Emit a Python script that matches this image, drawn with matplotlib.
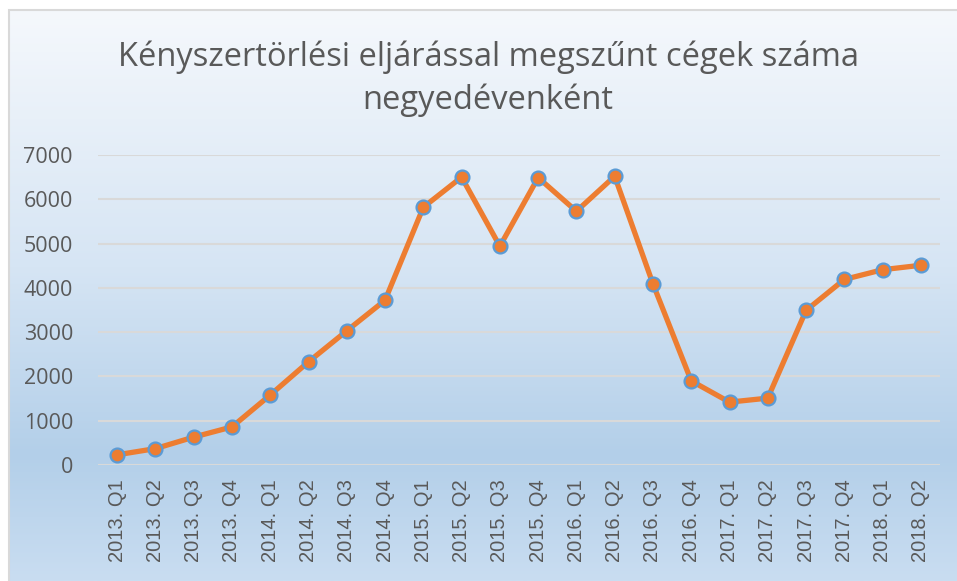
import numpy as np
import matplotlib.pyplot as plt
from matplotlib.colors import LinearSegmentedColormap
from matplotlib.patches import Rectangle

# quarters and values
quarters = ['2013. Q1', '2013. Q2', '2013. Q3', '2013. Q4',
            '2014. Q1', '2014. Q2', '2014. Q3', '2014. Q4',
            '2015. Q1', '2015. Q2', '2015. Q3', '2015. Q4',
            '2016. Q1', '2016. Q2', '2016. Q3', '2016. Q4',
            '2017. Q1', '2017. Q2', '2017. Q3', '2017. Q4',
            '2018. Q1', '2018. Q2']
counts = [230, 370, 630, 860,
          1580, 2330, 3030, 3720,
          5820, 6500, 4940, 6490,
          5730, 6520, 4090, 1900,
          1420, 1510, 3490, 4190,
          4410, 4510]
y_ticks = [0, 1000, 2000, 3000, 4000, 5000, 6000, 7000]

W, H = 957, 581
fig = plt.figure(figsize=(W / 100, H / 100), dpi=100)

# gradient background of the chart area
bg = fig.add_axes([0, 0, 1, 1], zorder=0)
cmap = LinearSegmentedColormap.from_list(
    'bg', [(0.0, '#f5f8fc'), (0.45, '#d6e5f4'), (0.78, '#b3cfe9'), (1.0, '#c9ddf1')])
grad = np.linspace(0, 1, 256).reshape(-1, 1)
bg.imshow(grad, aspect='auto', cmap=cmap, extent=[9 / W, 1, 0, 1 - 10 / H],
          origin='upper')
bg.add_patch(Rectangle((9 / W, -0.01), 1.0, 1 - 10 / H + 0.01, fill=False,
                       edgecolor='#d9d9d9', linewidth=1.5))
bg.set_xlim(0, 1)
bg.set_ylim(0, 1)
bg.axis('off')

ax = fig.add_axes([98 / W, 1 - 465 / H, 842 / W, 310 / H], zorder=1)
ax.patch.set_alpha(0)

x = np.arange(len(quarters))
ax.plot(x, counts, color='#ed7d31', linewidth=3.8, marker='o', markersize=10,
        markerfacecolor='#ed7d31', markeredgecolor='#5b9bd5', markeredgewidth=1.6,
        solid_joinstyle='round', zorder=3)

ax.set_xlim(-0.5, len(quarters) - 0.5)
ax.set_ylim(0, 7000)
ax.set_yticks(y_ticks)
ax.set_yticklabels([str(v) for v in y_ticks], fontsize=15.5, color='#595959',
                   family='Open Sans')
ax.set_xticks(x)
ax.set_xticklabels(quarters, rotation=90, fontsize=14.5, color='#595959',
                   family='Liberation Sans')
ax.tick_params(length=0, pad=10)
ax.tick_params(axis='y', pad=18)
ax.grid(axis='y', color='#d9d9d9', linewidth=1.5)
ax.set_axisbelow(True)
for s in ax.spines.values():
    s.set_visible(False)

fig.text(488 / W, 1 - 57 / H, 'Kényszertörlési eljárással megszűnt cégek száma',
         ha='center', va='center', fontsize=23.5, color='#595959', family='Open Sans')
fig.text(488 / W, 1 - 100 / H, 'negyedévenként',
         ha='center', va='center', fontsize=23.5, color='#595959', family='Open Sans')

fig.savefig('out.png', dpi=100)
